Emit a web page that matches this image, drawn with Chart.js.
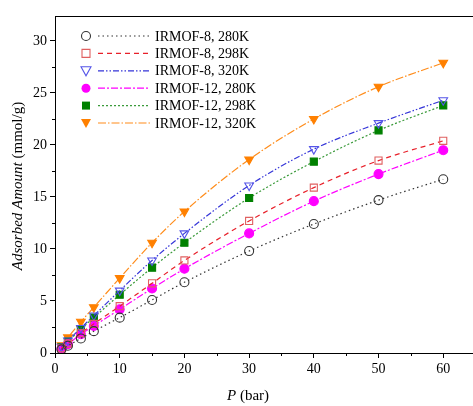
<!DOCTYPE html>
<html>
<head>
<meta charset="utf-8">
<script src="https://cdn.jsdelivr.net/npm/chart.js@4/dist/chart.umd.min.js"></script>
<style>
  body { margin: 0; background: #fff; }
</style>
</head>
<body>
<canvas id="chart" width="473" height="406"></canvas>
<script>
// pressure points (bar)
const pressures = [1, 2, 4, 6, 10, 15, 20, 30, 40, 50, 60];

// adsorbed amount (mmol/g)
const irmof8_280 = [0.35, 0.7, 1.4, 2.1, 3.4, 5.1, 6.8, 9.8, 12.4, 14.7, 16.7];
const irmof8_298 = [0.45, 0.9, 1.9, 2.8, 4.5, 6.7, 8.9, 12.7, 15.9, 18.5, 20.4];
const irmof8_320 = [0.6, 1.2, 2.4, 3.6, 6.0, 8.9, 11.5, 16.1, 19.6, 22.1, 24.3];
const irmof12_280 = [0.4, 0.85, 1.8, 2.6, 4.2, 6.2, 8.1, 11.5, 14.6, 17.2, 19.5];
const irmof12_298 = [0.55, 1.1, 2.3, 3.4, 5.6, 8.2, 10.6, 14.9, 18.4, 21.4, 23.8];
const irmof12_320 = [0.75, 1.5, 3.0, 4.4, 7.2, 10.6, 13.6, 18.6, 22.5, 25.6, 27.9];

const seriesNames = ["IRMOF-8, 280K", "IRMOF-8, 298K", "IRMOF-8, 320K",
  "IRMOF-12, 280K", "IRMOF-12, 298K", "IRMOF-12, 320K"];

const xTicks = [0, 10, 20, 30, 40, 50, 60];
const yTicks = [0, 5, 10, 15, 20, 25, 30];

const serif = "'Times New Roman', 'Liberation Serif', serif";

// estilos de cada serie
const styles = [
  { line: "#333333", marker: "#333333", dash: [1.5, 3], shape: "circle", fill: false },
  { line: "#e8202a", marker: "#e06060", dash: [5, 4], shape: "rect", fill: false },
  { line: "#3535d8", marker: "#5555e8", dash: [6, 2, 1.5, 2, 1.5, 2], shape: "triangle", fill: false },
  { line: "#ff00ff", marker: "#ff00ff", dash: [7, 2, 2, 2], shape: "circle", fill: true },
  { line: "#3a9a3a", marker: "#008000", dash: [2, 2], shape: "rect", fill: true },
  { line: "#ff8c1a", marker: "#ff8000", dash: [8, 2, 1.5, 2], shape: "triangle", fill: true }
];

const allValues = [irmof8_280, irmof8_298, irmof8_320, irmof12_280, irmof12_298, irmof12_320];

const datasets = allValues.map((vals, i) => {
  const s = styles[i];
  return {
    label: seriesNames[i],
    data: pressures.map((p, k) => ({ x: p, y: vals[k] })),
    borderColor: s.line,
    borderWidth: 1.2,
    borderDash: s.dash,
    cubicInterpolationMode: "monotone",
    pointStyle: s.shape,
    pointRotation: s.shape === "triangle" ? 180 : 0,
    pointRadius: s.shape === "circle" ? 4.5 : 5,
    pointBorderColor: s.marker,
    pointBackgroundColor: s.fill ? s.marker : "rgba(0,0,0,0)",
    pointBorderWidth: 1.1
  };
});

function drawMarker(ctx, s, x, y) {
  ctx.save();
  ctx.setLineDash([]);
  ctx.strokeStyle = s.marker;
  ctx.fillStyle = s.marker;
  ctx.lineWidth = 1.1;
  ctx.beginPath();
  if (s.shape === "circle") {
    ctx.arc(x, y, 4.5, 0, Math.PI * 2);
  } else if (s.shape === "rect") {
    ctx.rect(x - 4, y - 4, 8, 8);
  } else {
    ctx.moveTo(x - 5, y - 4);
    ctx.lineTo(x + 5, y - 4);
    ctx.lineTo(x, y + 5);
    ctx.closePath();
  }
  if (s.fill) ctx.fill(); else ctx.stroke();
  ctx.restore();
}

const extras = {
  id: "extras",
  afterDraw(chart) {
    const ctx = chart.ctx;
    const area = chart.chartArea;
    const xs = chart.scales.x;
    const ys = chart.scales.y;
    ctx.save();
    ctx.strokeStyle = "#000";
    ctx.lineWidth = 1;

    // moldura de cima
    ctx.beginPath();
    ctx.moveTo(area.left, area.top + 0.5);
    ctx.lineTo(area.right, area.top + 0.5);
    ctx.stroke();

    // minor ticks
    ctx.beginPath();
    for (let v = 5; v < 65; v += 10) {
      const px = Math.round(xs.getPixelForValue(v)) + 0.5;
      ctx.moveTo(px, area.bottom);
      ctx.lineTo(px, area.bottom + 3);
    }
    for (let v = 2.5; v < 32; v += 5) {
      const py = Math.round(ys.getPixelForValue(v)) + 0.5;
      ctx.moveTo(area.left, py);
      ctx.lineTo(area.left - 3, py);
    }
    ctx.stroke();

    // axis titles
    ctx.fillStyle = "#000";
    ctx.textBaseline = "middle";
    const italic = "italic 15px " + serif;
    const normal = "15px " + serif;
    ctx.font = italic;
    const p1 = "P";
    const w1 = ctx.measureText(p1).width;
    ctx.font = normal;
    const p2 = " (bar)";
    const w2 = ctx.measureText(p2).width;
    let sx = 248 - (w1 + w2) / 2;
    ctx.font = italic;
    ctx.fillText(p1, sx, 396);
    ctx.font = normal;
    ctx.fillText(p2, sx + w1, 396);

    ctx.save();
    ctx.translate(18, 186);
    ctx.rotate(-Math.PI / 2);
    ctx.font = italic;
    const t1 = "Adsorbed Amount";
    const tw1 = ctx.measureText(t1).width;
    ctx.font = normal;
    const t2 = " (mmol/g)";
    const tw2 = ctx.measureText(t2).width;
    sx = -(tw1 + tw2) / 2;
    ctx.font = italic;
    ctx.fillText(t1, sx, 0);
    ctx.font = normal;
    ctx.fillText(t2, sx + tw1, 0);
    ctx.restore();

    // legenda
    ctx.font = "14px " + serif;
    for (let i = 0; i < styles.length; i++) {
      const s = styles[i];
      const y = 36 + i * 17.4;
      drawMarker(ctx, s, 86, y);
      ctx.save();
      ctx.strokeStyle = s.line;
      ctx.lineWidth = 1.2;
      ctx.setLineDash(s.dash);
      ctx.beginPath();
      ctx.moveTo(98, y);
      ctx.lineTo(150, y);
      ctx.stroke();
      ctx.restore();
      ctx.fillStyle = "#000";
      ctx.fillText(seriesNames[i], 155, y + 1);
    }
    ctx.restore();
  }
};

new Chart(document.getElementById("chart"), {
  type: "line",
  data: { datasets },
  options: {
    responsive: false,
    animation: false,
    layout: { autoPadding: false, padding: { top: 16, right: 0, left: 0, bottom: 0 } },
    plugins: { legend: { display: false }, tooltip: { enabled: false } },
    scales: {
      x: {
        type: "linear",
        min: 0,
        max: 64.6,
        afterBuildTicks: (scale) => { scale.ticks = xTicks.map(v => ({ value: v })); },
        afterFit: (scale) => { scale.height = 53; },
        ticks: { color: "#000", font: { family: serif, size: 14 }, padding: 3, maxRotation: 0 },
        grid: { drawOnChartArea: false, drawTicks: true, tickLength: 5, color: "#000" },
        border: { color: "#000", width: 1 }
      },
      y: {
        min: 0,
        max: 32.4,
        afterBuildTicks: (scale) => { scale.ticks = yTicks.map(v => ({ value: v })); },
        afterFit: (scale) => { scale.width = 55; },
        ticks: { color: "#000", font: { family: serif, size: 14 }, padding: 3 },
        grid: { drawOnChartArea: false, drawTicks: true, tickLength: 5, color: "#000" },
        border: { color: "#000", width: 1 }
      }
    }
  },
  plugins: [extras]
});
</script>
</body>
</html>
